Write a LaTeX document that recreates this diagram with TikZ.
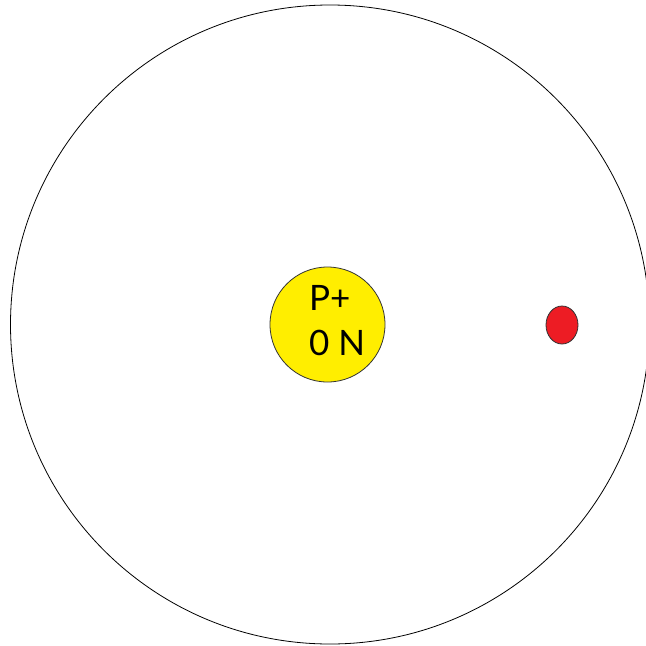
\documentclass[tikz,border=0pt]{standalone}
\usepackage{fontspec}
\setmainfont{Lato}
\usetikzlibrary{shapes.geometric}
\definecolor{nucyellow}{RGB}{255,238,0}
\definecolor{elecred}{RGB}{237,28,36}
\begin{document}
\begin{tikzpicture}[x=1pt,y=-1pt,
  orbit/.style={draw=black,line width=0.8pt},
  nucleus/.style={circle,draw=black!80,line width=0.8pt,fill=nucyellow,minimum size=115pt,inner sep=0pt},
  nuclabel/.style={align=left,inner sep=0pt,font=\fontsize{35}{45}\selectfont},
  electron/.style={ellipse,draw=black!80,line width=0.8pt,fill=elecred,minimum width=32pt,minimum height=38pt,inner sep=0pt}]
\useasboundingbox (0,0) rectangle (646,646);
\fill[white] (0,0) rectangle (646,646);
\coordinate (c) at (330,324.5);
\draw[orbit] (c) circle[radius=319.5];
\node[nucleus] (n) at (327.5,324.5) {};
\node[nuclabel] (nt) at (337,321) {P+\\0 N};
\node[electron] (e) at (562,325) {};
\end{tikzpicture}
\end{document}
